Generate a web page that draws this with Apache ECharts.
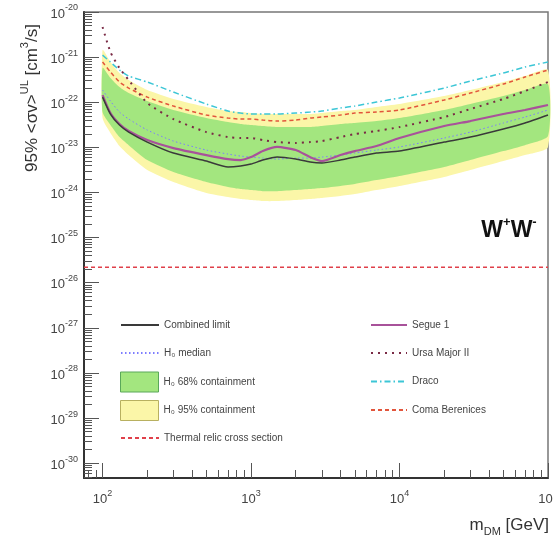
<!DOCTYPE html>
<html><head><meta charset="utf-8">
<script src="https://cdn.jsdelivr.net/npm/echarts@6/dist/echarts.min.js"></script>
<style>html,body{margin:0;padding:0;background:#fff}#c{width:553px;height:538px}</style>
</head><body><div id="c"></div>
<script>
// ---- data ----
const mass = [100,113,130,150,200,300,500,700,850,1000,1200,1500,2000,2500,3000,4000,5000,7000,10000,20000,30000,50000,70000,100000];
const combined = [1.30e-22,5.48e-23,3.12e-23,2.18e-23,1.31e-23,7.47e-24,4.97e-24,3.66e-24,3.85e-24,4.26e-24,5.23e-24,6.09e-24,5.50e-24,4.72e-24,4.49e-24,5.23e-24,6.09e-24,7.47e-24,8.28e-24,1.31e-23,1.69e-23,2.55e-23,3.46e-23,5.20e-23];
const segue1 = [1.44e-22,5.76e-23,3.29e-23,2.30e-23,1.45e-23,9.65e-24,6.75e-24,5.50e-24,5.23e-24,6.09e-24,8.28e-24,1.02e-23,8.71e-24,6.09e-24,4.97e-24,6.75e-24,8.28e-24,1.07e-23,1.61e-23,2.97e-23,3.83e-23,5.48e-23,6.72e-23,8.67e-23];
const ursaMajorII = [4.65e-21,1.30e-21,5.73e-22,3.11e-22,9.60e-23,4.24e-23,2.18e-23,1.69e-23,1.61e-23,1.61e-23,1.45e-23,1.31e-23,1.25e-23,1.31e-23,1.38e-23,1.69e-23,1.97e-23,2.30e-23,2.82e-23,4.70e-23,7.07e-23,1.18e-22,1.77e-22,2.81e-22];
const draco = [1.11e-21,7.79e-22,5.18e-22,3.81e-22,2.81e-22,1.68e-22,9.12e-23,6.38e-23,5.76e-23,5.48e-23,5.48e-23,5.48e-23,5.76e-23,6.06e-23,6.38e-23,7.44e-23,8.23e-23,1.01e-22,1.24e-22,2.06e-22,2.95e-22,4.44e-22,6.03e-22,7.79e-22];
const comaBerenices = [7.79e-22,4.67e-22,2.81e-22,2.06e-22,1.30e-22,8.23e-23,5.20e-23,4.46e-23,4.24e-23,4.24e-23,4.03e-23,3.83e-23,4.03e-23,4.46e-23,4.70e-23,5.20e-23,5.76e-23,6.06e-23,6.72e-23,1.12e-22,1.60e-22,2.53e-22,3.62e-22,5.18e-22];
const h0Median = [1.86e-22,1.06e-22,6.06e-23,4.24e-23,2.42e-23,1.38e-23,8.71e-24,7.10e-24,6.41e-24,6.09e-24,5.79e-24,5.50e-24,5.79e-24,5.79e-24,6.09e-24,6.75e-24,7.47e-24,8.71e-24,1.02e-23,1.61e-23,2.18e-23,3.46e-23,4.70e-23,6.72e-23];
const band68Upper = [5.73e-22,3.44e-22,2.17e-22,1.60e-22,1.06e-22,6.72e-23,4.46e-23,3.64e-23,3.29e-23,3.12e-23,2.97e-23,2.82e-23,2.82e-23,2.82e-23,2.97e-23,3.29e-23,3.46e-23,3.83e-23,4.46e-23,6.72e-23,9.12e-23,1.37e-22,1.86e-22,2.53e-22];
const band68Lower = [6.06e-23,3.12e-23,1.69e-23,1.12e-23,5.23e-24,2.83e-24,1.70e-24,1.32e-24,1.19e-24,1.13e-24,1.07e-24,1.07e-24,1.13e-24,1.19e-24,1.25e-24,1.39e-24,1.54e-24,1.88e-24,2.31e-24,3.66e-24,5.23e-24,8.28e-24,1.12e-23,1.78e-23];
const band95Upper = [1.44e-21,7.79e-22,4.44e-22,3.11e-22,1.86e-22,1.18e-22,7.83e-23,6.38e-23,6.06e-23,5.76e-23,5.48e-23,5.48e-23,5.48e-23,5.48e-23,5.76e-23,6.38e-23,6.72e-23,7.83e-23,9.12e-23,1.37e-22,1.86e-22,2.81e-22,3.81e-22,5.18e-22];
const band95Lower = [4.46e-23,2.08e-23,1.07e-23,6.75e-24,3.14e-24,1.70e-24,9.70e-25,7.91e-25,7.14e-25,6.78e-25,6.45e-25,6.45e-25,6.78e-25,7.14e-25,7.51e-25,8.32e-25,9.21e-25,1.13e-24,1.39e-24,2.20e-24,3.14e-24,4.97e-24,6.75e-24,1.02e-23];
const thermalMass = [75, 100000];
const thermalRelic = [2.2e-26, 2.2e-26];

// axis ranges & tick labels
const xMin = 75, xMax = 100000;
const yMinVal = 4.7e-31, yMaxVal = 1e-20;
const xTickValues = [100, 1000, 10000, 100000];
const yTickExponents = [-30,-29,-28,-27,-26,-25,-24,-23,-22,-21,-20];

// legend entries (two columns)
const legendLeft = ['Combined limit', 'H\u2080 median', 'H\u2080 68% containment', 'H\u2080 95% containment', 'Thermal relic cross section'];
const legendRight = ['Segue 1', 'Ursa Major II', 'Draco', 'Coma Berenices'];

// ---- build ----
const lg = v => Math.log10(v);
const yMinLog = lg(yMinVal), yMaxLog = lg(yMaxVal);
const xMinor = [], yMinor = [];
for (let d = 1; d <= 4; d++) for (let k = 2; k <= 9; k++) { const v = k * Math.pow(10, d); if (v > xMin && v < xMax) xMinor.push(v); }
for (let e = -31; e <= -21; e++) for (let k = 2; k <= 9; k++) { const v = e + Math.log10(k); if (v > yMinLog && v < yMaxLog) yMinor.push(v); }

const FONT = '"Liberation Sans", Arial, Helvetica, sans-serif';
const toPts = arr => mass.map((m, i) => [m, lg(arr[i])]);

function lineSeries(name, arr, color, width, type, z) {
  return { type: 'line', name, data: toPts(arr), symbol: 'none', smooth: 0.2, z,
    lineStyle: { color, width, type }, itemStyle: { color }, silent: true };
}
function bandSeries(name, lo, hi, color, z) {
  return { type: 'custom', name, z, silent: true,
    itemStyle: { color },
    data: mass.map((m, i) => [m, lg(lo[i]), lg(hi[i])]),
    encode: { x: 0, y: [1, 2] },
    renderItem(params, api) {
      if (params.dataIndex !== 0) return null;
      const up = mass.map((m, i) => api.coord([m, lg(hi[i])]));
      const dn = mass.map((m, i) => api.coord([m, lg(lo[i])])).reverse();
      return { type: 'polygon', shape: { points: up.concat(dn), smooth: 0.2 }, style: { fill: color } };
    }
  };
}

const supRich = {
  b: { fontSize: 13, fontFamily: FONT, color: '#444', lineHeight: 17, verticalAlign: 'bottom' },
  s: { fontSize: 9, fontFamily: FONT, color: '#444', lineHeight: 17, verticalAlign: 'top' }
};

const GREEN = '#a3e67f', YELLOW = '#fbf6a8';
const boxStyle = {
  'H\u2080 68% containment': { color: GREEN, borderColor: '#5aa85a', borderWidth: 1, opacity: 1 },
  'H\u2080 95% containment': { color: YELLOW, borderColor: '#b8b060', borderWidth: 1, opacity: 1 }
};
const rowCenters = [325, 353, 381.5, 410, 438];

function legendRow(name, left, width, center) {
  const isBox = !!boxStyle[name];
  const h = isBox ? 20 : 16;
  return { left, top: center - h / 2, padding: 0, orient: 'vertical', itemWidth: width, itemHeight: 20, itemGap: 0,
    selectedMode: false, textStyle: { fontSize: 10, fontFamily: FONT, color: '#444' },
    data: [ isBox ? { name, icon: 'rect', itemStyle: boxStyle[name] } : { name, itemStyle: { opacity: 0 } } ] };
}
const legends = legendLeft.map((n, i) => legendRow(n, 120, 38, rowCenters[i]))
  .concat(legendRight.map((n, i) => legendRow(n, 370, 36, rowCenters[i])));

const option = {
  animation: false,
  backgroundColor: '#fff',
  grid: { left: 84, right: 5, top: 12, bottom: 60, show: true, borderColor: '#777', borderWidth: 1.5, outerBoundsMode: 'none', containLabel: false },
  xAxis: [
    { type: 'log', min: xMin, max: xMax, logBase: 10, position: 'bottom',
      axisLine: { lineStyle: { color: '#333', width: 2 } },
      axisTick: { inside: true, length: 15, customValues: xTickValues, lineStyle: { color: '#555', width: 1 } },
      axisLabel: { customValues: xTickValues, margin: 11, formatter: v => '{b|10}{s|' + Math.round(Math.log10(v)) + '}', rich: supRich },
      splitLine: { show: false } },
    { type: 'log', min: xMin, max: xMax, logBase: 10, position: 'bottom',
      axisLine: { show: false }, axisLabel: { show: false }, splitLine: { show: false },
      axisTick: { inside: true, length: 8, customValues: xMinor, lineStyle: { color: '#555', width: 1 } } }
  ],
  yAxis: [
    { type: 'value', min: yMinLog, max: yMaxLog, position: 'left',
      axisLine: { lineStyle: { color: '#333', width: 2 } },
      axisTick: { inside: true, length: 15, customValues: yTickExponents, lineStyle: { color: '#555', width: 1 } },
      axisLabel: { customValues: yTickExponents, margin: 6, formatter: v => '{b|10}{s|' + Math.round(v) + '}', rich: supRich },
      splitLine: { show: false } },
    { type: 'value', min: yMinLog, max: yMaxLog, position: 'left',
      axisLine: { show: false }, axisLabel: { show: false }, splitLine: { show: false },
      axisTick: { inside: true, length: 8, customValues: yMinor, lineStyle: { color: '#555', width: 1 } } }
  ],
  legend: legends,
  series: [
    bandSeries('H\u2080 95% containment', band95Lower, band95Upper, YELLOW, 1),
    bandSeries('H\u2080 68% containment', band68Lower, band68Upper, GREEN, 2),
    { type: 'line', name: 'Thermal relic cross section', data: thermalMass.map((m, i) => [m, lg(thermalRelic[i])]),
      symbol: 'none', z: 3, silent: true, lineStyle: { color: '#e0404a', width: 1.5, type: [4, 3] }, itemStyle: { color: '#e0404a' } },
    lineSeries('H\u2080 median', h0Median, '#7d7dff', 1, [1.5, 2.5], 4),
    lineSeries('Coma Berenices', comaBerenices, '#e2553c', 1.5, [4, 3], 5),
    lineSeries('Draco', draco, '#3cc6d6', 1.5, [6, 3, 1.5, 3], 6),
    lineSeries('Ursa Major II', ursaMajorII, '#7a2a45', 2, [2, 5], 7),
    lineSeries('Segue 1', segue1, '#a8529a', 2.2, 'solid', 8),
    lineSeries('Combined limit', combined, '#3a3a3a', 1.5, 'solid', 9)
  ],
  graphic: [
    { type: 'text', x: 30, y: 98, rotation: Math.PI / 2, z: 100,
      style: { text: '{n|95% <\u03c3v>}{s|UL}{n| [cm}{s|3}{n|/s]}', align: 'center', verticalAlign: 'middle',
        rich: { n: { fontSize: 17, fontFamily: FONT, fill: '#333', lineHeight: 21, verticalAlign: 'bottom' },
                s: { fontSize: 11, fontFamily: FONT, fill: '#333', lineHeight: 21, verticalAlign: 'top' } } } },
    { type: 'text', x: 549, y: 527, z: 100,
      style: { text: '{n|m}{d|DM}{n| [GeV]}', align: 'right', verticalAlign: 'middle',
        rich: { n: { fontSize: 17, fontFamily: FONT, fill: '#333', lineHeight: 21, verticalAlign: 'top' },
                d: { fontSize: 11, fontFamily: FONT, fill: '#333', lineHeight: 21, verticalAlign: 'bottom' } } } },
    { type: 'text', x: 509, y: 229, z: 100,
      style: { text: '{w|W}{s|+}{w|W}{s|-}', align: 'center', verticalAlign: 'middle',
        rich: { w: { fontSize: 23, fontWeight: 'bold', fontFamily: FONT, fill: '#111', lineHeight: 26, verticalAlign: 'bottom' },
                s: { fontSize: 13, fontWeight: 'bold', fontFamily: FONT, fill: '#111', lineHeight: 26, verticalAlign: 'top' } } } }
  ]
};
const chart = echarts.init(document.getElementById('c'), null, { renderer: 'canvas' });
chart.setOption(option);
</script>
</body></html>
